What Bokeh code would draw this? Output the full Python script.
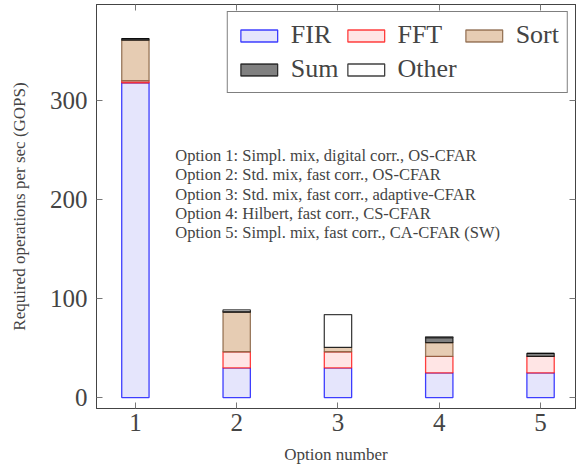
from bokeh.plotting import figure
from bokeh.models import ColumnDataSource, Legend, LegendItem, LinearAxis, FixedTicker, Range1d, Label
from bokeh.embed import file_html
from bokeh.resources import INLINE

options = [1, 2, 3, 4, 5]
fir = [318, 30, 30, 25, 25]
fft = [2, 16.3, 16.3, 16.6, 16.6]
sort_ = [41, 40, 4.4, 14, 0]
sum_ = [1.5, 0.5, 0, 5, 3]
other = [0, 1.8, 33.2, 0.8, 0]
series = ["FIR", "FFT", "Sort", "Sum", "Other"]
notes = [
    "Option 1: Simpl. mix, digital corr., OS-CFAR",
    "Option 2: Std. mix, fast corr., OS-CFAR",
    "Option 3: Std. mix, fast corr., adaptive-CFAR",
    "Option 4: Hilbert, fast corr., CS-CFAR",
    "Option 5: Simpl. mix, fast corr., CA-CFAR (SW)",
]

FONT = "Liberation Serif"

src = ColumnDataSource(dict(x=options, FIR=fir, FFT=fft, Sort=sort_, Sum=sum_, Other=other))

p = figure(width=576, height=466, output_backend="svg", toolbar_location=None,
           x_range=Range1d(0.616, 5.345), y_range=Range1d(-11, 397),
           min_border_left=96, min_border_right=1, min_border_top=4, min_border_bottom=57)
p.grid.visible = False
p.outline_line_color = "#333333"
p.outline_line_width = 1

fills = ["#e5e5fc", "#ffe5e5", "#e6ccb3", "#808080", "#ffffff"]
lines = ["#0000ff", "#ff0000", "#7a5230", "#000000", "#000000"]
rs = p.vbar_stack(series, x="x", width=0.27, source=src,
                  fill_color=fills, line_color=lines, line_alpha=0.75, line_width=1.3)

for ax in (p.xaxis[0], p.yaxis[0]):
    ax.major_tick_in = 6
    ax.major_tick_out = 0
    ax.minor_tick_line_color = None
    ax.axis_line_color = "#444444"
    ax.major_tick_line_color = "#777777"
    ax.major_label_text_font = FONT
    ax.major_label_text_font_size = "25px"
    ax.axis_label_text_font = FONT
    ax.axis_label_text_font_size = "17px"
    ax.axis_label_text_font_style = "normal"

p.xaxis.ticker = FixedTicker(ticks=options)
p.yaxis.ticker = FixedTicker(ticks=[0, 100, 200, 300])
p.xaxis.axis_label = "Option number"
p.yaxis.axis_label = "Required operations per sec (GOPS)"
p.yaxis.major_label_standoff = 9
p.xaxis.major_label_standoff = 5
p.yaxis.axis_label_standoff = 18
p.xaxis.axis_label_standoff = 11

for loc, tick in (("above", options), ("right", [0, 100, 200, 300])):
    ax = LinearAxis(ticker=FixedTicker(ticks=tick), major_tick_in=6, major_tick_out=0,
                    minor_tick_line_color=None, major_label_text_color=None,
                    major_label_text_font_size="1px",
                    major_label_standoff=0, axis_line_color="#444444",
                    major_tick_line_color="#777777")
    p.add_layout(ax, loc)

items = [LegendItem(label=s, renderers=[r]) for s, r in zip(series, rs)]
legend = Legend(items=items, location="top_right", orientation="horizontal", ncols=3,
                label_text_font=FONT, label_text_font_size="26px",
                glyph_width=46, glyph_height=15, label_standoff=9, spacing=4,
                padding=8, margin=7, border_line_color="#000000", border_line_width=1,
                label_height=30)
p.add_layout(legend, "center")

for i, t in enumerate(notes):
    p.add_layout(Label(x=1.394, y=244.7 - i * 19.6, text=t, text_font=FONT,
                       text_font_size="16.5px", text_baseline="middle"))

open("out.html", "w").write(file_html(p, INLINE))
